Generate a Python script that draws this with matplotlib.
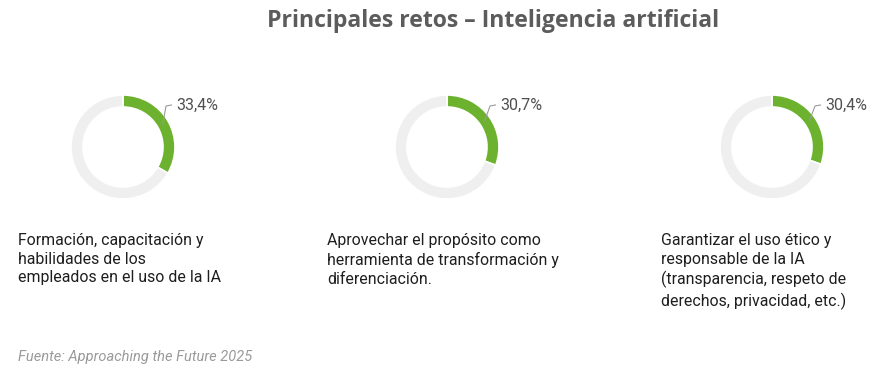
import numpy as np
import matplotlib.pyplot as plt

W, H = 881, 392
TITLE = "Principales retos – Inteligencia artificial"
SOURCE = "Fuente: Approaching the Future 2025"
VALUES = [33.4, 30.7, 30.4]
LABELS = [
    "Formación, capacitación y\nhabilidades de los\nempleados en el uso de la IA",
    "Aprovechar el propósito como\nherramienta de transformación y\ndiferenciación.",
    "Garantizar el uso ético y\nresponsable de la IA\n(transparencia, respeto de\nderechos, privacidad, etc.)",
]

GREEN = "#6db22f"
GREY = "#efefef"
CENTERS_X = [123, 447, 772]
LABEL_X = [18, 327, 661]
CY = 147
R_OUT, RING = 52, 12

fig = plt.figure(figsize=(W / 100, H / 100), dpi=100)
ax = fig.add_axes([0, 0, 1, 1])

def yy(y_px):
    # pixel-from-top -> data y
    return H - y_px

for cx, v, lx, lab in zip(CENTERS_X, VALUES, LABEL_X, LABELS):
    ax.pie([v, 100 - v], colors=[GREEN, GREY], startangle=90, counterclock=False,
           radius=R_OUT, center=(cx, yy(CY)),
           wedgeprops=dict(width=RING, edgecolor="white", linewidth=1.2))
    # leader line from middle of the green arc
    ang = np.deg2rad(90 - v * 3.6 / 2)
    rm = R_OUT - RING / 2
    x0, y0 = cx + rm * np.cos(ang), yy(CY) + rm * np.sin(ang)
    x1, y1 = cx + 43, yy(106)
    ax.plot([x0, x1, x1 + 5.5], [y0, y1, y1 + 1], color="#9a9a9a", lw=0.8,
            solid_joinstyle="miter")
    ax.text(x1 + 10, y1 + 1, f"{v:.1f}".replace(".", ",") + "%",
            fontsize=11.5, family="Roboto", color="#505050", va="center", ha="left")
    ax.text(lx, yy(233), lab, fontsize=11.4, family="Roboto", color="#1e1e1e",
            va="top", ha="left", linespacing=1.31)

ax.set_xlim(0, W)
ax.set_ylim(0, H)
ax.set_aspect("auto")
ax.axis("off")

fig.text(493 / W, 1 - 21 / H, TITLE, fontsize=16.6, family="Open Sans", weight="bold",
         color="#5c5c5c", ha="center", va="center")
fig.text(18 / W, 1 - 357 / H, SOURCE, fontsize=10.5, family="Roboto", style="italic",
         color="#9a9a9a", ha="left", va="center")

fig.savefig("out.png", dpi=100, facecolor="white")
